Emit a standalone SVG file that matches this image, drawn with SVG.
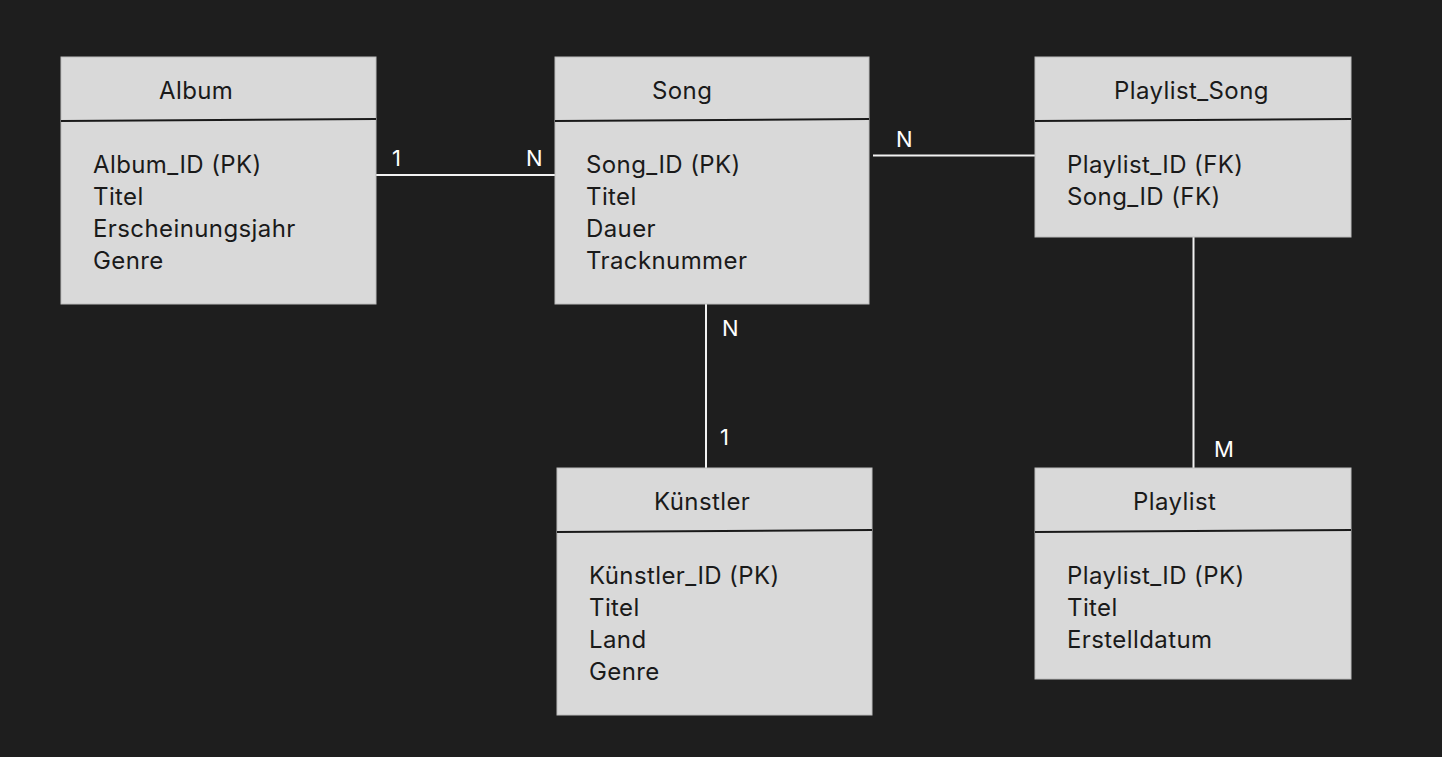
<svg xmlns="http://www.w3.org/2000/svg" width="1442" height="757" viewBox="0 0 1442 757">
<style>
.box{fill:#d9d9d9;stroke:#bdbdbd;stroke-width:1}
.div{stroke:#1a1a1a;stroke-width:2}
.t{font-family:Inter,"Liberation Sans",sans-serif;font-size:24px;letter-spacing:0.4px;fill:#1a1a1a}
.lbl{font-family:Inter,"Liberation Sans",sans-serif;font-size:22px;fill:#ffffff}
.con{stroke:#f2f2f2;stroke-width:2;fill:none}
</style>
<rect width="1442" height="757" fill="#1e1e1e"/>
<g id="connectors">
<line class="con" x1="376" y1="175" x2="555" y2="175"/>
<line class="con" x1="873" y1="155.5" x2="1035" y2="155.5"/>
<line class="con" x1="706" y1="304" x2="706" y2="468"/>
<line class="con" x1="1193.5" y1="237" x2="1193.5" y2="468"/>
<text class="lbl" x="392" y="166">1</text>
<text class="lbl" x="526" y="166">N</text>
<text class="lbl" x="896" y="147">N</text>
<text class="lbl" x="722" y="336">N</text>
<text class="lbl" x="720" y="445">1</text>
<text class="lbl" x="1214" y="457">M</text>
</g>
<g id="album">
<rect class="box" x="61" y="57" width="315" height="247"/>
<line class="div" x1="61" y1="121" x2="376" y2="119"/>
<text class="t" x="159" y="99">Album</text>
<text class="t" x="93" y="173">Album_ID (PK)</text>
<text class="t" x="93" y="205">Titel</text>
<text class="t" x="93" y="237">Erscheinungsjahr</text>
<text class="t" x="93" y="269">Genre</text>
</g>
<g id="song">
<rect class="box" x="555" y="57" width="314" height="247"/>
<line class="div" x1="555" y1="121" x2="869" y2="119"/>
<text class="t" x="652" y="99">Song</text>
<text class="t" x="586" y="173">Song_ID (PK)</text>
<text class="t" x="586" y="205">Titel</text>
<text class="t" x="586" y="237">Dauer</text>
<text class="t" x="586" y="269">Tracknummer</text>
</g>
<g id="playlist_song">
<rect class="box" x="1035" y="57" width="316" height="180"/>
<line class="div" x1="1035" y1="121" x2="1351" y2="119"/>
<text class="t" x="1114" y="99">Playlist_Song</text>
<text class="t" x="1067" y="173">Playlist_ID (FK)</text>
<text class="t" x="1067" y="205">Song_ID (FK)</text>
</g>
<g id="kuenstler">
<rect class="box" x="557" y="468" width="315" height="247"/>
<line class="div" x1="557" y1="532" x2="872" y2="530"/>
<text class="t" x="654" y="510">Künstler</text>
<text class="t" x="589" y="584">Künstler_ID (PK)</text>
<text class="t" x="589" y="616">Titel</text>
<text class="t" x="589" y="648">Land</text>
<text class="t" x="589" y="680">Genre</text>
</g>
<g id="playlist">
<rect class="box" x="1035" y="468" width="316" height="211"/>
<line class="div" x1="1035" y1="532" x2="1351" y2="530"/>
<text class="t" x="1133" y="510">Playlist</text>
<text class="t" x="1067" y="584">Playlist_ID (PK)</text>
<text class="t" x="1067" y="616">Titel</text>
<text class="t" x="1067" y="648">Erstelldatum</text>
</g>
</svg>
